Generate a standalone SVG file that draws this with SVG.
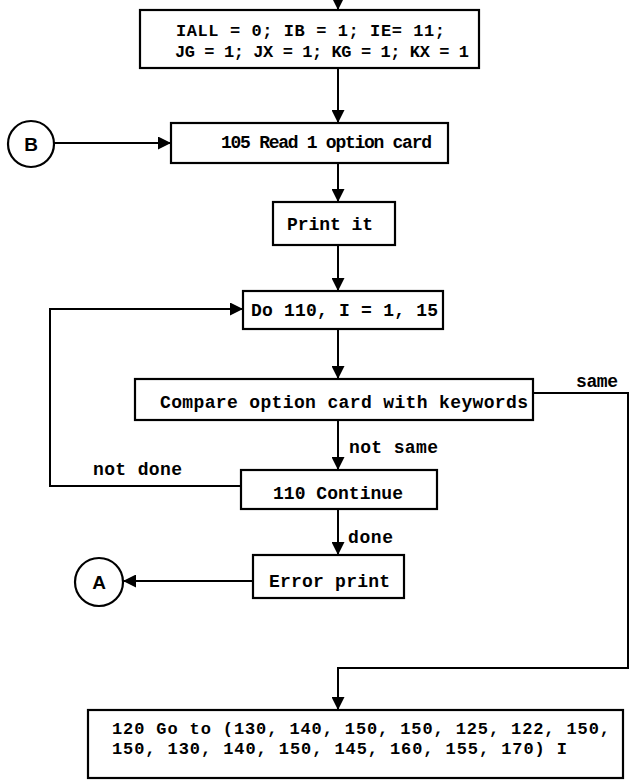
<svg xmlns="http://www.w3.org/2000/svg" width="630" height="781" viewBox="0 0 630 781">
<defs>
<style>
.box{fill:#fff;stroke:#000;stroke-width:2.2}
.ln{fill:none;stroke:#000;stroke-width:2}
.t{font-family:"Liberation Mono","DejaVu Sans Mono",monospace;font-size:18px;font-weight:bold;fill:#000}
.s{font-size:17px}
.c{font-family:"Liberation Sans","DejaVu Sans",sans-serif;font-size:19px;font-weight:bold;fill:#000;text-anchor:middle}
</style>
<marker id="ah" viewBox="0 0 12 12" refX="12" refY="6" markerWidth="13" markerHeight="13" markerUnits="userSpaceOnUse" orient="auto">
<path d="M0,0 L12,6 L0,12 Z" fill="#000"/>
</marker>
</defs>
<rect width="630" height="781" fill="#fff"/>
<g id="connectors">
<path class="ln" d="M338,-4 L338,10" marker-end="url(#ah)"/>
<path class="ln" d="M338,68 L338,123" marker-end="url(#ah)"/>
<path class="ln" d="M54,143 L171,143" marker-end="url(#ah)"/>
<path class="ln" d="M338,163 L338,202" marker-end="url(#ah)"/>
<path class="ln" d="M338,245 L338,291" marker-end="url(#ah)"/>
<path class="ln" d="M241,486 L50,486 L50,309 L243,309" marker-end="url(#ah)"/>
<path class="ln" d="M338,329 L338,379" marker-end="url(#ah)"/>
<path class="ln" d="M338,420 L338,470" marker-end="url(#ah)"/>
<path class="ln" d="M338,509 L338,555" marker-end="url(#ah)"/>
<path class="ln" d="M253,581 L123,581" marker-end="url(#ah)"/>
<path class="ln" d="M533,393 L628,393 L628,668 L338,668 L338,710" marker-end="url(#ah)"/>
<text class="t" x="576" y="387" textLength="42">same</text>
<text class="t" x="349" y="453" textLength="89">not same</text>
<text class="t" x="93" y="475" textLength="89">not done</text>
<text class="t" x="348" y="543" textLength="45">done</text>
</g>
<g id="init">
<rect class="box" x="140" y="10" width="339" height="58"/>
<text class="t s" x="176" y="36" textLength="269">IALL = 0; IB = 1; IE= 11;</text>
<text class="t s" x="175" y="57" textLength="294">JG = 1; JX = 1; KG = 1; KX = 1</text>
</g>
<g id="connB">
<circle class="box" cx="31" cy="144" r="23"/>
<text class="c" x="31" y="151">B</text>
</g>
<g id="read">
<rect class="box" x="171" y="123" width="277" height="40"/>
<text class="t" x="221" y="148" textLength="211">105 Read 1 option card</text>
</g>
<g id="print">
<rect class="box" x="273" y="202" width="122" height="43"/>
<text class="t" x="287" y="230" textLength="86">Print it</text>
</g>
<g id="do110">
<rect class="box" x="243" y="291" width="200" height="38"/>
<text class="t" x="251" y="316" textLength="187">Do 110, I = 1, 15</text>
</g>
<g id="compare">
<rect class="box" x="135" y="379" width="398" height="41"/>
<text class="t" x="160" y="408" textLength="368">Compare option card with keywords</text>
</g>
<g id="continue">
<rect class="box" x="241" y="470" width="196" height="39"/>
<text class="t" x="273" y="499" textLength="130">110 Continue</text>
</g>
<g id="error">
<rect class="box" x="253" y="555" width="151" height="43"/>
<text class="t" x="269" y="587" textLength="121">Error print</text>
</g>
<g id="connA">
<circle class="box" cx="99" cy="582" r="24"/>
<text class="c" x="99" y="589">A</text>
</g>
<g id="goto">
<rect class="box" x="88" y="710" width="535" height="68"/>
<text class="t s" x="112" y="734" textLength="498">120 Go to (130, 140, 150, 150, 125, 122, 150,</text>
<text class="t s" x="112" y="754" textLength="455">150, 130, 140, 150, 145, 160, 155, 170) I</text>
</g>
</svg>
